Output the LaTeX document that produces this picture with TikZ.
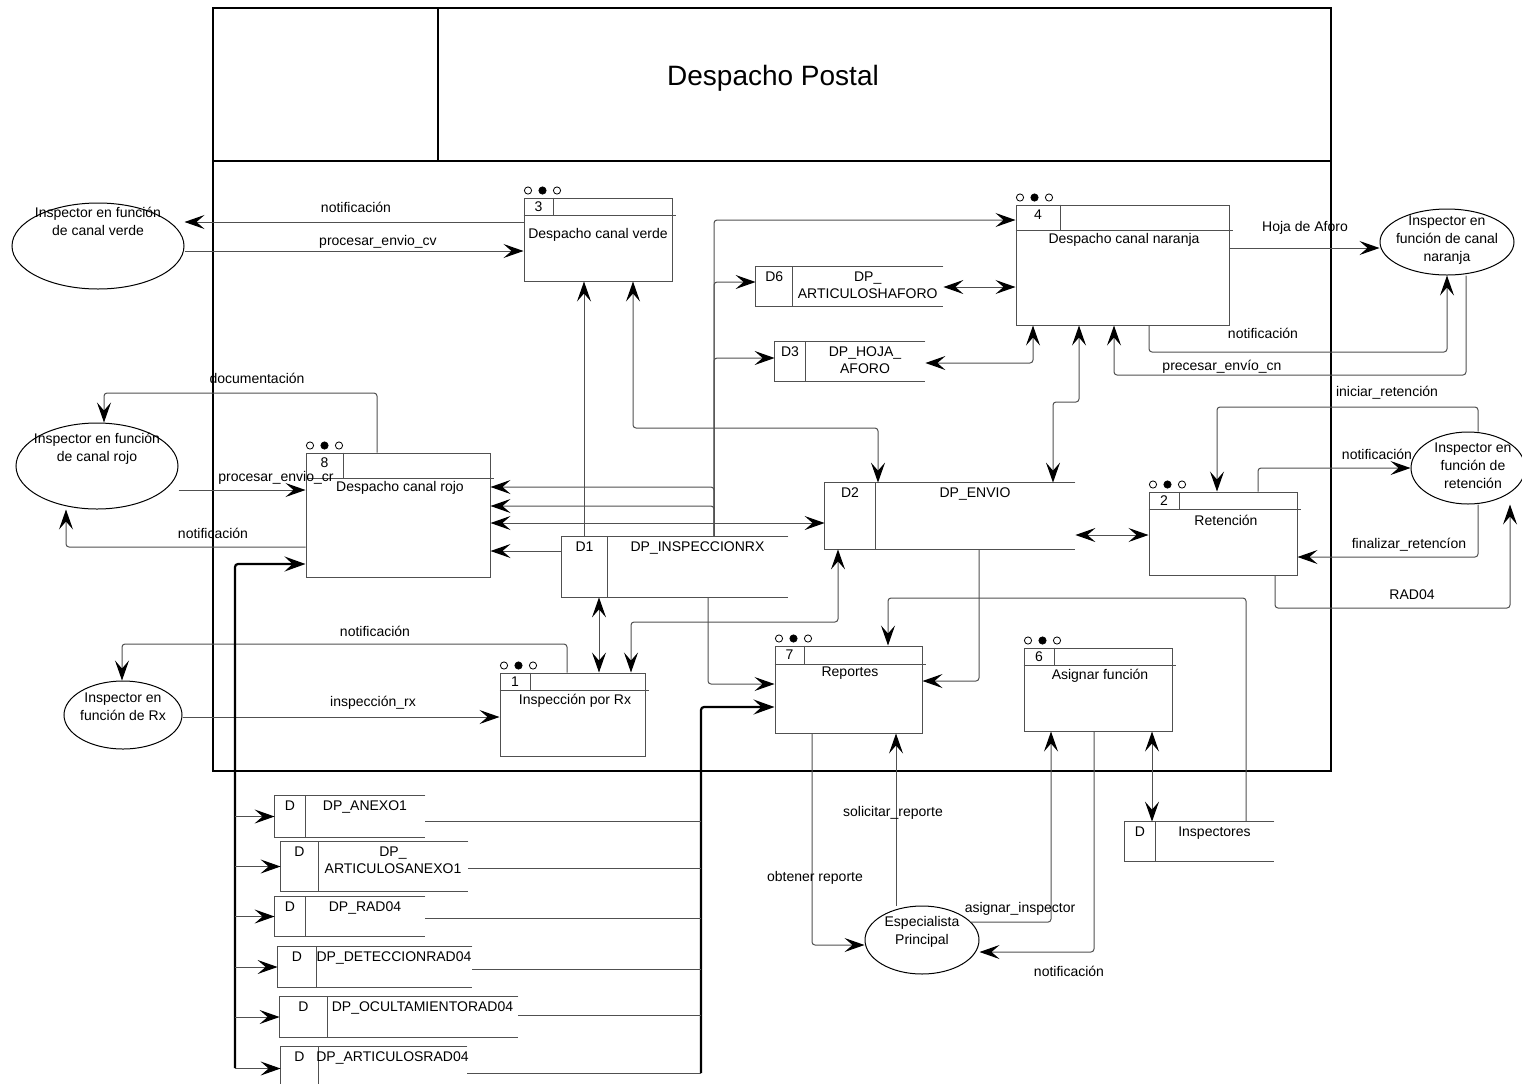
\documentclass[tikz,border=0pt]{standalone}
\usepackage{fontspec}
\setmainfont{Liberation Sans}
\usetikzlibrary{arrows.meta,shapes.geometric,fit}

\definecolor{ln}{RGB}{80,80,80}

\tikzset{
  boxline/.style={draw=ln, line width=0.5pt},
  conn/.style={draw=ln, line width=0.5pt, rounded corners=1.5pt},
  flow/.style={conn, -{Stealth[length=10pt,width=7pt,inset=4pt,color=black]}},
  flows/.style={conn, {Stealth[length=10pt,width=7pt,inset=4pt,color=black]}-{Stealth[length=10pt,width=7pt,inset=4pt,color=black]}},
  bus/.style={draw=black, line width=1.1pt, rounded corners=1.5pt},
  busflow/.style={bus, -{Stealth[length=10.5pt,width=7.5pt,inset=4pt]}},
  ptext/.style={font=\fontsize{7}{8.5}\selectfont, inner sep=0pt, text=black},
  etext/.style={ptext, align=center, font=\fontsize{7}{9}\selectfont},
  ent/.style={ellipse, draw=black, line width=0.5pt, inner sep=0pt},
  dot/.style={draw=black, line width=0.4pt},
  frameline/.style={draw=black, line width=1pt},
}

% process box: name, x1, y1, x2, y2, header height, number cell width, number
\newcommand\procbox[8]{%
  \node[fit={(#2,#3)(#4,#5)}, boxline, inner sep=0pt] (#1) {};
  \draw[boxline] ([yshift=-#6*0.5pt]#1.north west) -- ([xshift=1.5pt,yshift=-#6*0.5pt]#1.north east);
  \draw[boxline] ([xshift=#7*0.5pt]#1.north west) -- ([xshift=#7*0.5pt,yshift=-#6*0.5pt]#1.north west);
  \node[ptext] (#1num) at ([xshift=#7*0.25pt,yshift=-#6*0.25pt+(#6-18)*0.2pt]#1.north west) {#8};
  \draw[dot] ([xshift=2.25pt,yshift=3.5pt]#1.north west) circle (1.8pt);
  \draw[dot,fill=black] ([xshift=9.5pt,yshift=3.5pt]#1.north west) circle (1.8pt);
  \draw[dot] ([xshift=16.75pt,yshift=3.5pt]#1.north west) circle (1.8pt);
}

% open-ended data store: name, x1, y1, x2, y2, divider x, id, label
\newcommand\datastore[8]{%
  \node[fit={(#2,#3)(#4,#5)}, inner sep=0pt] (#1) {};
  \draw[boxline] (#1.north east) -- (#1.north west) -- (#1.south west) -- (#1.south east);
  \draw[boxline] (#6,#3) -- (#6,#5);
  \node[ptext, anchor=north] (#1id) at ({(#2+#6)/2},{#3+4}) {#7};
  \node[ptext, anchor=north, align=center] (#1lb) at ({(#6+#4)/2},{#3+4}) {#8};
}

\begin{document}
\begin{tikzpicture}[x=0.5pt,y=-0.5pt]
\useasboundingbox (0,0) rectangle (1522,1083);

% system boundary with title block
\node[fit={(213,8)(1331,771)}, frameline, inner sep=0pt] (frame) {};
\draw[frameline] (frame.west |- 0,161) -- (frame.east |- 0,161);
\draw[frameline] (438,8) -- (438,161);
\node[font=\fontsize{14}{16}\selectfont, inner sep=0pt] (title) at (773,78) {Despacho Postal};

% processes
\procbox{p3}{524}{198}{672}{281}{18}{30}{3}
\procbox{p4}{1016}{205}{1229}{325}{26}{45}{4}
\procbox{p8}{306}{453}{490}{577}{26}{38}{8}
\procbox{p2}{1149}{492}{1297}{575}{18}{31}{2}
\procbox{p7}{775}{646}{922}{733}{19}{30}{7}
\procbox{p6}{1024}{648}{1172}{731}{18}{31}{6}
\procbox{p1}{500}{673}{645}{756}{18}{31}{1}

\node[ptext] (p3t) at (598,235) {Despacho canal verde};
\node[ptext] (p4t) at (1124,240) {Despacho canal naranja};
\node[ptext] (p8t) at (400,488) {Despacho canal rojo};
\node[ptext] (p2t) at (1226,520) {Retención};
\node[ptext] (p7t) at (850,673) {Reportes};
\node[ptext] (p6t) at (1100,676) {Asignar función};
\node[ptext] (p1t) at (575,701) {Inspección por Rx};

% data stores
\datastore{d6}{756}{267}{943}{306}{792.5}{D6}{DP\_\\ARTICULOSHAFORO}
\datastore{d3}{775}{342}{925}{381}{805}{D3}{DP\_HOJA\_\\AFORO}
\datastore{d1}{562}{537}{788}{597}{607}{D1}{DP\_INSPECCIONRX}
\datastore{d2}{825}{483}{1075}{549}{875}{D2}{DP\_ENVIO}
\datastore{insp}{1125}{822}{1274}{861}{1155}{D}{Inspectores}
\datastore{s1}{275}{796}{425}{837}{305}{D}{DP\_ANEXO1}
\datastore{s2}{281}{842}{468}{891}{318}{D}{DP\_\\ARTICULOSANEXO1}
\datastore{s3}{275}{897}{425}{936}{305}{D}{DP\_RAD04}
\datastore{s4}{278}{947}{472}{987}{316}{D}{DP\_DETECCIONRAD04}
\datastore{s5}{280}{997}{518}{1037}{327}{D}{DP\_OCULTAMIENTORAD04}
\datastore{s6}{281}{1047}{467}{1090}{318}{D}{DP\_ARTICULOSRAD04}

% external entities
\node[ent, minimum width=86pt, minimum height=43pt] (icv) at (98,246) {};
\node[etext] (icvt) at (98,221) {Inspector en función\\de canal verde};
\node[ent, minimum width=67pt, minimum height=33pt] (icn) at (1447,242) {};
\node[etext] (icnt) at (1447,240) {Inspector en\\función de canal\\naranja};
\node[ent, minimum width=81pt, minimum height=43pt] (icr) at (97,466) {};
\node[etext] (icrt) at (97,449) {Inspector en función\\de canal rojo};
\node[ent, minimum width=57pt, minimum height=36pt] (ire) at (1468,468) {};
\node[etext] (iret) at (1473,466) {Inspector en\\función de\\retención};
\node[ent, minimum width=59pt, minimum height=34pt] (irx) at (123,715) {};
\node[etext] (irxt) at (123,707) {Inspector en\\función de Rx};
\node[ent, minimum width=57pt, minimum height=34pt] (esp) at (922,940) {};
\node[etext] (espt) at (922,932) {Especialista\\Principal};

% canal verde
\draw[flow] (p3.west |- 0,222) -- (icv.east |- 0,222);
\draw[flow] (icv.east |- 0,251) -- (p3.west |- 0,251);
% canal rojo
\draw[flow] (p8.north -| 377,0) |- (104,393) -- (icr.north -| 104,0);
\draw[flow] (icr.east |- 0,490) -- (p8.west |- 0,490);
\draw[flow] (p8.west |- 0,547) -| (icr.south -| 66,0);
% DP_INSPECCIONRX
\draw[flow] (d1.north -| 584,0) -- (p3.south -| 584,0);
\draw[flow] (d1.north -| 714,0) |- (p4.west |- 0,220);
\draw[flow] (d1.north -| 714,0) |- (d6.west |- 0,282);
\draw[flow] (d1.north -| 714,0) |- (d3.west |- 0,358);
\draw[flow] (d1.north -| 714,0) |- (p8.east |- 0,487);
\draw[flow] (d1.north -| 714,0) |- (p8.east |- 0,506);
\draw[flow] (d1.west |- 0,551) -- (p8.east |- 0,551);
\draw[flows] (d1.south -| 599,0) -- (p1.north -| 599,0);
\draw[flow] (d1.south -| 708,0) |- (p7.west |- 0,684);
% DP_ENVIO
\draw[flows] (p3.south -| 633,0) |- (878,428) -- (d2.north -| 878,0);
\draw[flows] (p8.east |- 0,523) -- (d2.west |- 0,523);
\draw[flows] (d2.south -| 838,0) |- (631,622) -- (p1.north -| 631,0);
\draw[flow] (d2.south -| 979,0) |- (p7.east |- 0,681);
\draw[flows] (p4.south -| 1079,0) |- (1053,402) -- (d2.north -| 1053,0);
\draw[flows] (d2.east |- 0,535) -- (p2.west |- 0,535);
% aforo stores
\draw[flows] (d6.east |- 0,287) -- (p4.west |- 0,287);
\draw[flows] (d3.east |- 0,363) -| (p4.south -| 1033,0);
% canal naranja
\draw[flow] (p4.east |- 0,248) -- (icn.west |- 0,248);
\draw[flow] (p4.south -| 1149,0) |- (1447,352) -- (icn.south -| 1447,0);
\draw[flow] (icn.south -| 1466,0) |- (1114,375) -- (p4.south -| 1114,0);
% retención
\draw[flow] (ire.north -| 1478,0) |- (1217,407) -- (p2.north -| 1217,0);
\draw[flow] (p2.north -| 1258,0) |- (ire.west |- 0,468);
\draw[flow] (ire.south -| 1478,0) |- (p2.east |- 0,557);
\draw[flow] (p2.south -| 1275,0) |- (1510,608) -- (ire.south -| 1510,0);
% Rx
\draw[flow] (p1.north -| 567,0) |- (122,644) -- (irx.north -| 122,0);
\draw[flow] (irx.east |- 0,717) -- (p1.west |- 0,717);
% reportes, inspectores, especialista
\draw[flow] (insp.north -| 1246,0) |- (888,598) -- (p7.north -| 888,0);
\draw[flows] (p6.south -| 1152,0) -- (insp.north -| 1152,0);
\draw[flow] (p7.south -| 812,0) |- (esp.west |- 0,945);
\draw[flow] (esp.north -| 896,0) -- (p7.south -| 896,0);
\draw[flow] (esp.20) -| (p6.south -| 1051,0);
\draw[flow] (p6.south -| 1094,0) |- (esp.east |- 0,952);

% RAD04 store buses
\coordinate (busL) at (235,1068);
\coordinate (busR) at (701,1073);
\draw[busflow] (busL) |- (p8.west |- 0,564);
\draw[busflow] (busR) |- (p7.west |- 0,707);
\foreach \s in {s1,s2,s3,s4,s5,s6}
  \draw[flow] (busL |- \s.west) -- (\s.west);
\draw[conn] (s1.east |- 0,821) -- (busR |- 0,821);
\draw[conn] (s2.east |- 0,868) -- (busR |- 0,868);
\draw[conn] (s3.east |- 0,918) -- (busR |- 0,918);
\draw[conn] (s4.east |- 0,969) -- (busR |- 0,969);
\draw[conn] (s5.east |- 0,1015) -- (busR |- 0,1015);
\draw[conn] (s6.east |- 0,1073) -- (busR);

% flow labels
\node[ptext] (l1) at (356,207) {notificación};
\node[ptext] (l2) at (378,242) {procesar\_envio\_cv};
\node[ptext] (l3) at (257,378) {documentación};
\node[ptext] (l4) at (276,478) {procesar\_envio\_cr};
\node[ptext] (l5) at (213,533) {notificación};
\node[ptext] (l6) at (375,631) {notificación};
\node[ptext] (l7) at (373,703) {inspección\_rx};
\node[ptext] (l8) at (1305,228) {Hoja de Aforo};
\node[ptext] (l9) at (1263,333) {notificación};
\node[ptext] (l10) at (1222,367) {precesar\_envío\_cn};
\node[ptext] (l11) at (1387,393) {iniciar\_retención};
\node[ptext] (l12) at (1377,454) {notificación};
\node[ptext] (l13) at (1409,545) {finalizar\_retencíon};
\node[ptext] (l14) at (1412,595) {RAD04};
\node[ptext] (l15) at (893,813) {solicitar\_reporte};
\node[ptext] (l16) at (815,878) {obtener reporte};
\node[ptext] (l17) at (1020,909) {asignar\_inspector};
\node[ptext] (l18) at (1069,971) {notificación};
\end{tikzpicture}
\end{document}
